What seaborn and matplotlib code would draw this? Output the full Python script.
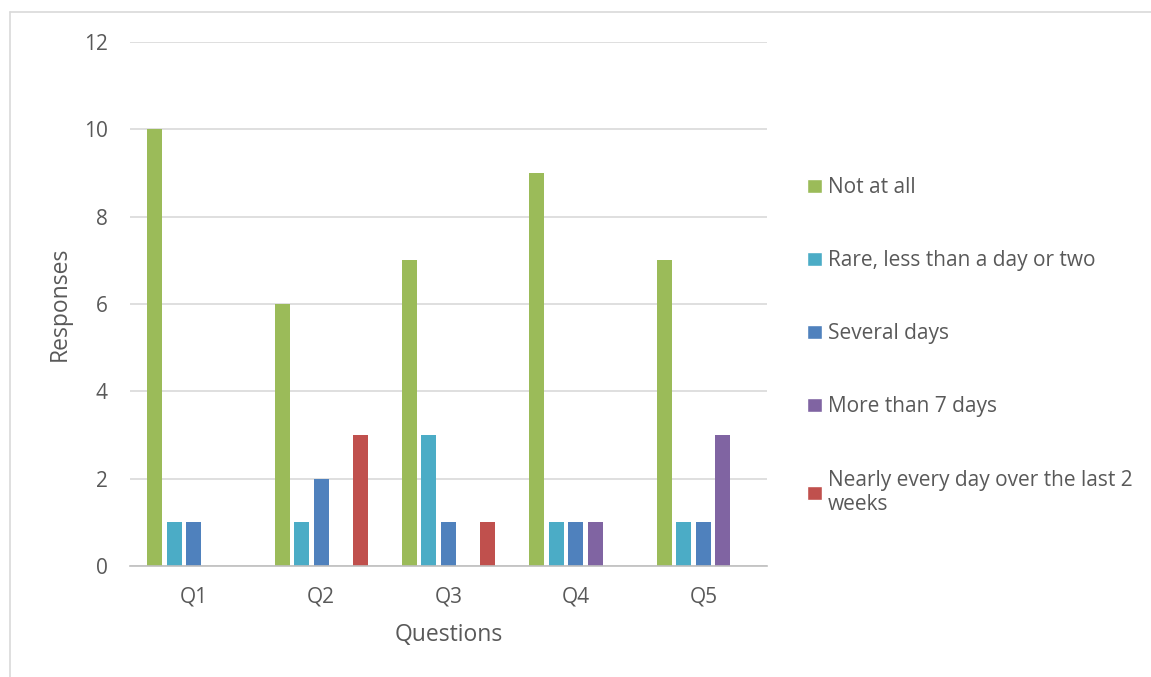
import numpy as np
import pandas as pd
import seaborn as sns
import matplotlib.pyplot as plt
from matplotlib.lines import Line2D

questions = ["Q1", "Q2", "Q3", "Q4", "Q5"]
answers = ["Not at all", "Rare, less than a day or two", "Several days",
           "More than 7 days", "Nearly every day over the last 2\nweeks"]
not_at_all = [10, 6, 7, 9, 7]
rare = [1, 1, 3, 1, 1]
several_days = [1, 2, 1, 1, 1]
more_than_7 = [0, 0, 0, 1, 3]
nearly_every_day = [0, 3, 1, 0, 0]
colors = ["#9BBB59", "#4BACC6", "#4F81BD", "#8064A2", "#C0504D"]

rows = []
for ans, vals in zip(answers, [not_at_all, rare, several_days, more_than_7, nearly_every_day]):
    for q, v in zip(questions, vals):
        rows.append({"Questions": q, "answer": ans, "Responses": v})
df = pd.DataFrame(rows)

sns.set_style("white")
plt.rcParams["font.family"] = ["Open Sans", "DejaVu Sans"]
txt = "#595959"

fig = plt.figure(figsize=(11.51, 6.77), dpi=100)
ax = fig.add_axes([0.1129, 0.164, 0.5535, 0.774])

sns.barplot(data=df, x="Questions", y="Responses", hue="answer", hue_order=answers,
            palette=colors, width=0.765, ax=ax, saturation=1, legend=True)

# shrink bars a bit to leave the small gaps between them
for p in ax.patches:
    w = p.get_width()
    if w == 0:
        continue
    nw = w * 0.77
    p.set_x(p.get_x() + (w - nw) / 2)
    p.set_width(nw)
    p.set_edgecolor("none")

ax.set_ylim(0, 12)
ax.set_xlim(-0.5, 4.5)
ax.set_yticks(range(0, 13, 2))
ax.yaxis.grid(True, color="#d9d9d9", linewidth=1.2)
ax.set_axisbelow(True)
for s in ["top", "right", "left"]:
    ax.spines[s].set_visible(False)
ax.spines["bottom"].set_color("#bfbfbf")
ax.spines["bottom"].set_linewidth(1.2)
ax.tick_params(axis="both", length=0, labelsize=15, colors=txt)
ax.tick_params(axis="x", pad=15)
ax.tick_params(axis="y", pad=16)
ax.set_xlabel("Questions", fontsize=16.5, color=txt, labelpad=11)
ax.set_ylabel("Responses", fontsize=16.5, color=txt, labelpad=9)

handles, labels = ax.get_legend_handles_labels()
ax.get_legend().remove()
fig.legend(handles, labels, loc="upper left", bbox_to_anchor=(0.685, 0.766),
           frameon=False, fontsize=15, labelcolor=txt, labelspacing=2.5,
           handlelength=0.7, handleheight=0.7, handletextpad=0.3)

# light outer frame like the chart area border
fig.add_artist(Line2D([10 / 1151, 10 / 1151], [0, 1 - 12 / 677], transform=fig.transFigure,
                      color="#d9d9d9", linewidth=1.2))
fig.add_artist(Line2D([10 / 1151, 1], [1 - 12 / 677, 1 - 12 / 677], transform=fig.transFigure,
                      color="#d9d9d9", linewidth=1.2))

fig.savefig("out.png", dpi=100)
